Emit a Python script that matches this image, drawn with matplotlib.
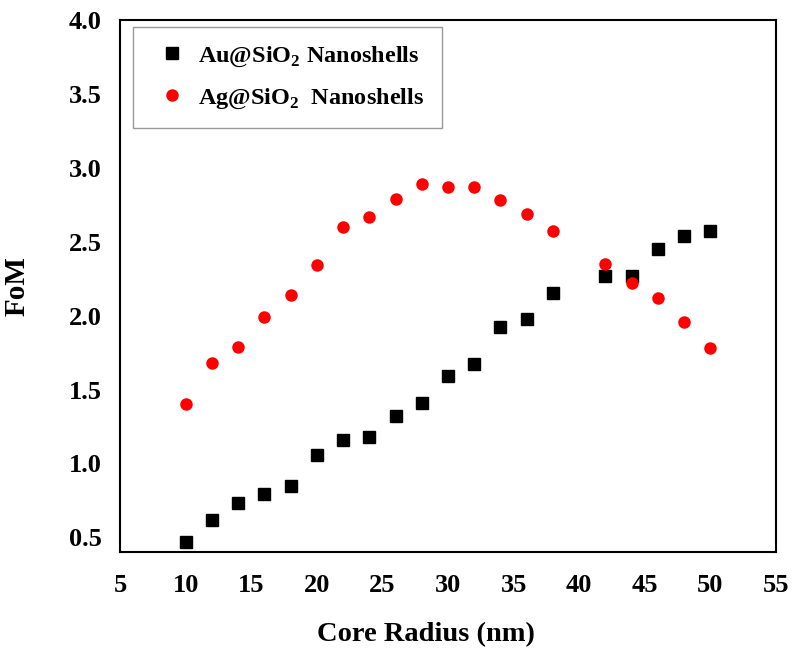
import numpy as np
import matplotlib
matplotlib.use('Agg')
import matplotlib.pyplot as plt

plt.rcParams['font.family'] = ['Liberation Serif', 'DejaVu Serif']
plt.rcParams['font.weight'] = 'bold'
plt.rcParams['mathtext.fontset'] = 'custom'
plt.rcParams['mathtext.rm'] = 'Liberation Serif:bold'
plt.rcParams['mathtext.bf'] = 'Liberation Serif:bold'

# core radius (nm)
radius = [10, 12, 14, 16, 18, 20, 22, 24, 26, 28, 30, 32, 34, 36, 38, 42, 44, 46, 48, 50]

# figure of merit
fom_au = [0.47, 0.62, 0.73, 0.79, 0.85, 1.06, 1.16, 1.18, 1.32, 1.41, 1.59, 1.67,
          1.92, 1.98, 2.15, 2.27, 2.27, 2.45, 2.54, 2.57]
fom_ag = [1.40, 1.68, 1.79, 1.99, 2.14, 2.34, 2.60, 2.67, 2.79, 2.89, 2.87, 2.87,
          2.78, 2.69, 2.57, 2.35, 2.22, 2.12, 1.96, 1.78]

labels = [r'Au@SiO$_\mathrm{2}$ Nanoshells', r'Ag@SiO$_\mathrm{2}$  Nanoshells']

fig = plt.figure(figsize=(7.95, 6.48), dpi=100)
ax = fig.add_axes([0.151, 0.148, 0.825, 0.821])

ax.plot(radius, fom_au, 's', color='black', markersize=8, label=labels[0])
ax.plot(radius, fom_ag, 'o', color='#ff0000', markersize=9, markeredgewidth=0,
        label=labels[1])

ax.set_xlim(5, 55)
ax.set_ylim(0.4, 4.0)
ax.set_xticks(np.arange(5, 56, 5))
ax.set_yticks(np.arange(0.5, 4.01, 0.5))
ax.set_yticklabels(['%.1f' % v for v in np.arange(0.5, 4.01, 0.5)])
ax.tick_params(length=0, labelsize=19)
ax.tick_params(axis='x', pad=16)
ax.tick_params(axis='y', pad=13)
for s in ax.spines.values():
    s.set_linewidth(1.5)

ax.set_xlabel('Core Radius (nm)', fontsize=20.5, fontweight='bold')
ax.xaxis.set_label_coords(0.466, -0.131)
ax.set_ylabel('FoM', fontsize=21, fontweight='bold')
ax.yaxis.set_label_coords(-0.137, 0.5)

leg = ax.legend(loc='upper left', bbox_to_anchor=(0.02, 0.987), fontsize=17.5,
                frameon=True, fancybox=False, edgecolor='#808080',
                borderaxespad=0, handletextpad=0.2, borderpad=0.72,
                labelspacing=0.72, handlelength=1.75)
leg.get_frame().set_linewidth(1.0)

fig.savefig('out.png', dpi=100)
